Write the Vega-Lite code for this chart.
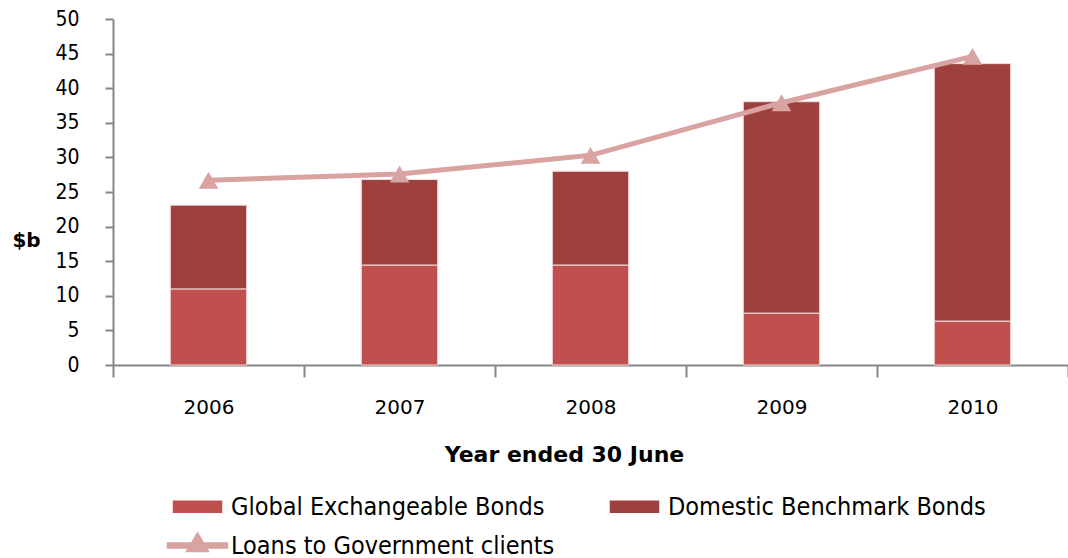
{
  "$schema": "https://vega.github.io/schema/vega-lite/v6.json",
  "autosize": "none",
  "width": 955,
  "height": 346,
  "padding": {"left": 113, "top": 19, "right": 0, "bottom": 193},
  "background": "white",
  "config": {"view": {"stroke": null}},
  "datasets": {
    "bars": [
      {"year": "2006", "series": "Global Exchangeable Bonds", "value": 11.0},
      {"year": "2006", "series": "Domestic Benchmark Bonds", "value": 12.1},
      {"year": "2007", "series": "Global Exchangeable Bonds", "value": 14.45},
      {"year": "2007", "series": "Domestic Benchmark Bonds", "value": 12.35},
      {"year": "2008", "series": "Global Exchangeable Bonds", "value": 14.45},
      {"year": "2008", "series": "Domestic Benchmark Bonds", "value": 13.55},
      {"year": "2009", "series": "Global Exchangeable Bonds", "value": 7.5},
      {"year": "2009", "series": "Domestic Benchmark Bonds", "value": 30.55},
      {"year": "2010", "series": "Global Exchangeable Bonds", "value": 6.35},
      {"year": "2010", "series": "Domestic Benchmark Bonds", "value": 37.2}
    ],
    "loans": [
      {"year": "2006", "series": "Loans to Government clients", "value": 26.7},
      {"year": "2007", "series": "Loans to Government clients", "value": 27.6},
      {"year": "2008", "series": "Loans to Government clients", "value": 30.3},
      {"year": "2009", "series": "Loans to Government clients", "value": 37.9},
      {"year": "2010", "series": "Loans to Government clients", "value": 44.6}
    ]
  },
  "encoding": {
    "x": {
      "field": "year", "type": "ordinal",
      "scale": {"paddingInner": 0, "paddingOuter": 0},
      "axis": {
        "title": "Year ended 30 June", "labelAngle": 0, "tickBand": "extent",
        "domainColor": "#868686", "domainWidth": 2, "tickColor": "#868686", "tickWidth": 2, "tickSize": 12,
        "labelFont": "DejaVu Sans", "labelFontSize": 20, "labelColor": "#000000", "labelPadding": 20,
        "titleFont": "DejaVu Sans", "titleFontSize": 22, "titleFontWeight": "bold", "titleColor": "#000000",
        "titlePadding": 27, "titleX": 451, "titleAlign": "center", "titleAnchor": null
      }
    },
    "y": {
      "field": "value", "type": "quantitative",
      "scale": {"domain": [0, 50], "nice": false},
      "axis": {
        "title": "$b", "titleAngle": 0, "titleX": -87, "titleY": 221, "titleAlign": "center", "titleBaseline": "middle",
        "titleFont": "DejaVu Sans", "titleFontSize": 20, "titleFontWeight": "bold", "titleColor": "#000000",
        "values": [0, 5, 10, 15, 20, 25, 30, 35, 40, 45, 50], "grid": false, "labelOverlap": false,
        "domainColor": "#868686", "domainWidth": 2, "tickColor": "#868686", "tickWidth": 2, "tickSize": 8,
        "labelFont": "DejaVu Sans Condensed", "labelFontSize": 21, "labelColor": "#000000", "labelPadding": 26
      }
    },
    "color": {
      "field": "series", "type": "nominal",
      "scale": {
        "domain": ["Global Exchangeable Bonds", "Domestic Benchmark Bonds", "Loans to Government clients"],
        "range": ["#C0504D", "#9E403E", "#D9A3A2"]
      },
      "legend": {
        "title": null, "orient": "none", "legendX": 59, "legendY": 475, "columns": 2, "direction": "horizontal",
        "columnPadding": 52, "rowPadding": 10, "padding": 0,
        "symbolSize": 100, "symbolOffset": 13, "labelFont": "DejaVu Sans Condensed", "labelFontSize": 25, "labelColor": "#000000",
        "labelOffset": 21, "labelLimit": 400,
        "encode": {
          "symbols": {
            "update": {
              "shape": {"signal": "datum.value === 'Loans to Government clients' ? 'M-6,-0.5H6V0.5H-6Z M-2.2,1.2L0,-2.5L2.2,1.2Z' : 'M-4.8,-1.1H4.8V1.1H-4.8Z'"},
              "fill": {"scale": "color", "field": "value"},
              "stroke": {"value": "transparent"},
              "opacity": {"value": 1},
              "fillOpacity": {"value": 1}
            }
          }
        }
      }
    }
  },
  "layer": [
    {
      "data": {"name": "bars"},
      "mark": {"type": "bar", "width": {"band": 0.4}, "stroke": "#F2DCDB", "strokeWidth": 1},
      "encoding": {
        "y": {"field": "value", "type": "quantitative", "stack": "zero"},
        "order": {"field": "series", "sort": "descending"}
      }
    },
    {
      "data": {"name": "loans"},
      "mark": {"type": "line", "strokeWidth": 5},
      "encoding": {}
    },
    {
      "data": {"name": "loans"},
      "mark": {"type": "point", "shape": "triangle-up", "filled": true, "size": 380, "opacity": 1},
      "encoding": {}
    }
  ]
}
